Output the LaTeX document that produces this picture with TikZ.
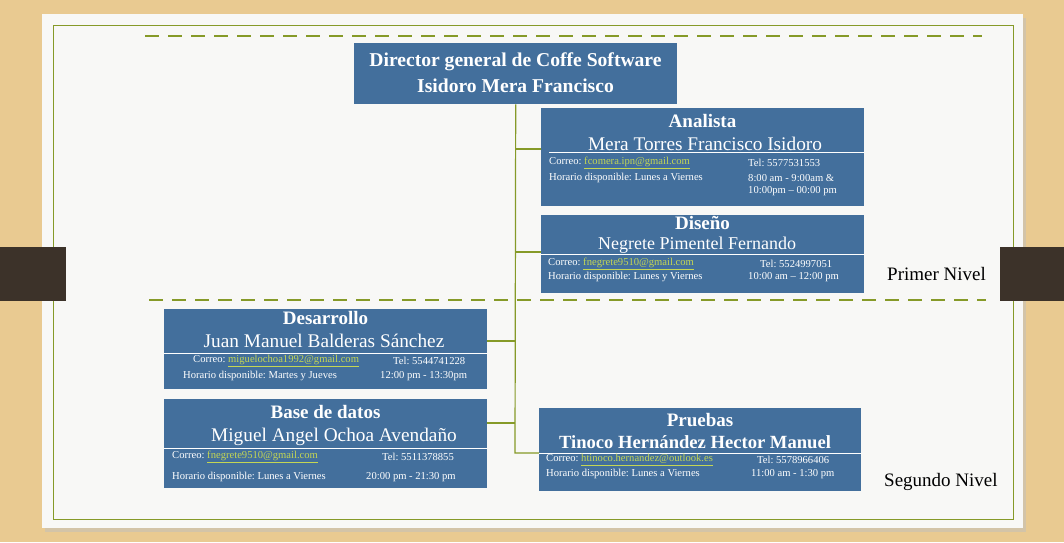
\documentclass[tikz,border=0pt]{standalone}
\usepackage{fontspec}
\setmainfont{Liberation Serif}
\definecolor{wood}{RGB}{233,202,145}
\definecolor{paper}{RGB}{248,248,246}
\definecolor{olive}{RGB}{134,154,40}
\definecolor{boxblue}{RGB}{67,111,156}
\definecolor{mailc}{RGB}{196,214,84}
\definecolor{clipc}{RGB}{60,50,41}
\tikzset{
  card/.style={fill=boxblue, draw=none, anchor=north west, inner sep=0pt},
  ttl/.style={text=white, inner sep=0pt, font=\fontsize{19}{21}\selectfont\bfseries},
  nm/.style={text=white, inner sep=0pt, font=\fontsize{19.3}{21}\selectfont},
  sm/.style={text=white, inner sep=0pt, anchor=west, yshift=-2pt, font=\fontsize{10.6}{12}\selectfont},
  rule/.style={draw=white, line width=0.8pt},
  conn/.style={draw=olive, line width=1.2pt},
  dashline/.style={draw=olive, line width=1.5pt, dash pattern=on 14pt off 9pt},
  lvl/.style={text=black, inner sep=0pt, anchor=west, font=\fontsize{19}{21}\selectfont},
}
\newcommand{\mail}[1]{\textcolor{mailc}{\underline{#1}}}
\frenchspacing
\begin{document}
\begin{tikzpicture}[x=1pt,y=-1pt]
\useasboundingbox (0,0) rectangle (1064,542);
% background
\fill[wood] (0,0) rectangle (1064,542);
\fill[black!25, opacity=0.5] (45,18) rectangle (1026,532);
\fill[paper] (42,14) rectangle (1023,528);
\draw[olive, line width=0.8pt] (53,25) rectangle (1013,519);
% clips
\fill[clipc] (0,247) rectangle (66,301);
\fill[clipc] (1000,247) rectangle (1064,301);
% dashed level lines
\draw[dashline] (145,36) -- (982,36);
\draw[dashline] (149,300) -- (986,300);
% boxes
\node[card, minimum width=323pt, minimum height=61pt] (dir) at (354,43) {};
\node[card, minimum width=323pt, minimum height=98pt] (ana) at (541,108) {};
\node[card, minimum width=323pt, minimum height=78pt] (dis) at (541,215) {};
\node[card, minimum width=323pt, minimum height=80pt] (des) at (164,309) {};
\node[card, minimum width=323pt, minimum height=89pt] (bd) at (164,399) {};
\node[card, minimum width=322pt, minimum height=83pt] (pru) at (539,408) {};
% connectors
\coordinate (ja) at (515,149);
\coordinate (jdi) at (515,252);
\coordinate (jde) at (515,341);
\coordinate (jb) at (515,423);
\coordinate (jp) at (515,453);
\draw[conn] (dir.south) -- (jp) -- (jp -| pru.west);
\draw[conn] (ja) -- (ja -| ana.west);
\draw[conn] (jdi) -- (jdi -| dis.west);
\draw[conn] (jde) -- (jde -| des.east);
\draw[conn] (jb) -- (jb -| bd.east);
% director
\node[ttl, font=\fontsize{19.6}{21}\selectfont\bfseries] (dirT) at (515.5,62) {Director general de Coffe Software};
\node[ttl, font=\fontsize{19.6}{21}\selectfont\bfseries] (dirN) at (515.5,86) {Isidoro Mera Francisco};
% analista
\node[ttl] (anaT) at (702.5,121) {Analista};
\node[nm] (anaN) at (705,144) {Mera Torres Francisco Isidoro};
\draw[rule] (549,152.5) -- (864,152.5);
\node[sm] (anaC) at (549,161) {Correo: \mail{fcomera.ipn@gmail.com}};
\node[sm] (anaH) at (549,176) {Horario disponible: Lunes a Viernes};
\node[sm] (anaTel) at (748,161) {Tel: 5577531553};
\node[sm] (anaH1) at (748,176) {8:00 am - 9:00am \&};
\node[sm] (anaH2) at (748,189) {10:00pm -- 00:00 pm};
% diseno
\node[ttl] (disT) at (702.5,223) {Diseño};
\node[nm, font=\fontsize{18}{20}\selectfont] (disN) at (697,245) {Negrete Pimentel Fernando};
\draw[rule] (541,254.5) -- (864,254.5);
\node[sm] (disC) at (548,262) {Correo: \mail{fnegrete9510@gmail.com}};
\node[sm] (disH) at (548,275) {Horario disponible: Lunes y Viernes};
\node[sm] (disTel) at (760,262) {Tel: 5524997051};
\node[sm] (disH1) at (748,275) {10:00 am -- 12:00 pm};
% desarrollo
\node[ttl] (desT) at (325.5,318) {Desarrollo};
\node[nm] (desN) at (324,341) {Juan Manuel Balderas Sánchez};
\draw[rule] (164,353) -- (487,353);
\node[sm] (desC) at (193,359) {Correo: \mail{miguelochoa1992@gmail.com}};
\node[sm] (desH) at (183,374) {Horario disponible: Martes y Jueves};
\node[sm] (desTel) at (393,359) {Tel: 5544741228};
\node[sm] (desH1) at (380,374) {12:00 pm - 13:30pm};
% base de datos
\node[ttl] (bdT) at (325.5,412) {Base de datos};
\node[nm] (bdN) at (334,437) {Miguel Angel Ochoa Avendaño};
\draw[rule] (164,448.5) -- (487,448.5);
\node[sm] (bdC) at (172,455) {Correo: \mail{fnegrete9510@gmail.com}};
\node[sm] (bdH) at (172,475) {Horario disponible: Lunes a Viernes};
\node[sm] (bdTel) at (382,455) {Tel: 5511378855};
\node[sm] (bdH1) at (366,475) {20:00 pm - 21:30 pm};
% pruebas
\node[ttl] (pruT) at (700,420) {Pruebas};
\node[ttl, font=\fontsize{18.6}{21}\selectfont\bfseries] (pruN) at (695,442) {Tinoco Hernández Hector Manuel};
\draw[rule] (539,453.5) -- (861,453.5);
\node[sm] (pruC) at (546,458) {Correo: \mail{htinoco.hernandez@outlook.es}};
\node[sm] (pruH) at (546,472) {Horario disponible: Lunes a Viernes};
\node[sm] (pruTel) at (757,458) {Tel: 5578966406};
\node[sm] (pruH1) at (751,472) {11:00 am - 1:30 pm};
% levels
\node[lvl] (lv1) at (887,274) {Primer Nivel};
\node[lvl] (lv2) at (884,482) {Segundo Nivel};
\end{tikzpicture}
\end{document}
